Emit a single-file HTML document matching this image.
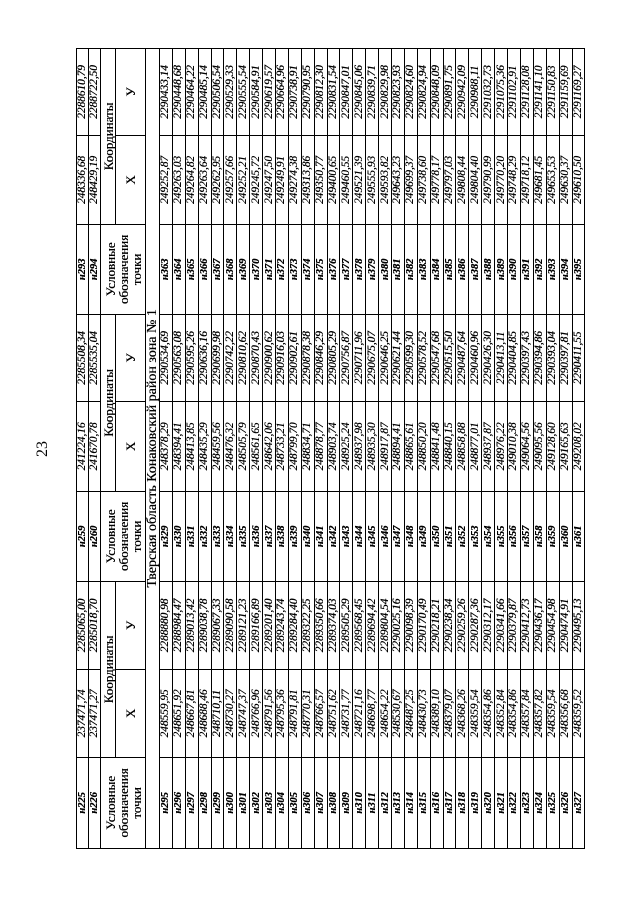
<!DOCTYPE html>
<html><head><meta charset="utf-8"><style>
html,body{margin:0;padding:0;background:#fff;}
body{width:640px;height:905px;position:relative;overflow:hidden;}
#r{position:absolute;left:-69px;top:194px;width:800px;height:510px;transform:rotate(-90deg);transform-origin:400px 255px;font-family:"Liberation Serif",serif;color:#000;}
table{border-collapse:collapse;table-layout:fixed;width:800px;}
td{border:1px solid #000;padding:0;text-align:center;white-space:nowrap;overflow:hidden;font-size:11px;line-height:11px;text-shadow:0.3px 0 0 #000;}
td.n{font-style:italic;font-weight:bold;font-size:10.5px;}
td.v{font-style:italic;font-size:11.3px;}
tr.d td{height:11.9px;}
tr.t td{height:11px;}
td.h{font-size:13px;line-height:13px;}
#p{position:absolute;left:0;top:-42px;width:800px;text-align:center;font-size:16px;}
</style></head><body>
<div id="r">
<div id="p">23</div>
<table>
<colgroup><col style="width:91px"><col style="width:88px"><col style="width:88px"><col style="width:90px"><col style="width:90px"><col style="width:87px"><col style="width:90px"><col style="width:89px"><col style="width:87px"></colgroup>
<tr class="t"><td class="n">н225</td><td class="v">237471,74</td><td class="v">2285065,00</td><td class="n">н259</td><td class="v">241224,16</td><td class="v">2285508,34</td><td class="n">н293</td><td class="v">248336,68</td><td class="v">2288610,79</td></tr>
<tr class="t"><td class="n">н226</td><td class="v">237471,27</td><td class="v">2285018,70</td><td class="n">н260</td><td class="v">241670,78</td><td class="v">2285535,04</td><td class="n">н294</td><td class="v">248429,19</td><td class="v">2288722,50</td></tr>
<tr><td class="h" rowspan="2" style="height:44px">Условные<br>обозначения<br>точки</td><td class="h" colspan="2" style="height:14px">Координаты</td><td class="h" rowspan="2">Условные<br>обозначения<br>точки</td><td class="h" colspan="2">Координаты</td><td class="h" rowspan="2">Условные<br>обозначения<br>точки</td><td class="h" colspan="2">Координаты</td></tr>
<tr><td class="h" style="height:29px">X</td><td class="h">У</td><td class="h">X</td><td class="h">У</td><td class="h">X</td><td class="h">У</td></tr>
<tr><td colspan="9" style="height:13px;font-size:14px;line-height:13px">Тверская область Конаковский район зона № 1</td></tr>
<tr class="d"><td class="n">н295</td><td class="v">248559,95</td><td class="v">2288880,98</td><td class="n">н329</td><td class="v">248378,29</td><td class="v">2290534,69</td><td class="n">н363</td><td class="v">249252,87</td><td class="v">2290433,14</td></tr>
<tr class="d"><td class="n">н296</td><td class="v">248651,92</td><td class="v">2288984,47</td><td class="n">н330</td><td class="v">248394,41</td><td class="v">2290563,08</td><td class="n">н364</td><td class="v">249263,03</td><td class="v">2290448,68</td></tr>
<tr class="d"><td class="n">н297</td><td class="v">248667,81</td><td class="v">2289013,42</td><td class="n">н331</td><td class="v">248413,85</td><td class="v">2290595,26</td><td class="n">н365</td><td class="v">249264,82</td><td class="v">2290464,22</td></tr>
<tr class="d"><td class="n">н298</td><td class="v">248688,46</td><td class="v">2289038,78</td><td class="n">н332</td><td class="v">248435,29</td><td class="v">2290636,16</td><td class="n">н366</td><td class="v">249263,64</td><td class="v">2290485,14</td></tr>
<tr class="d"><td class="n">н299</td><td class="v">248710,11</td><td class="v">2289067,33</td><td class="n">н333</td><td class="v">248459,56</td><td class="v">2290699,98</td><td class="n">н367</td><td class="v">249262,95</td><td class="v">2290506,54</td></tr>
<tr class="d"><td class="n">н300</td><td class="v">248730,27</td><td class="v">2289090,58</td><td class="n">н334</td><td class="v">248476,32</td><td class="v">2290742,22</td><td class="n">н368</td><td class="v">249257,66</td><td class="v">2290529,33</td></tr>
<tr class="d"><td class="n">н301</td><td class="v">248747,37</td><td class="v">2289121,23</td><td class="n">н335</td><td class="v">248505,79</td><td class="v">2290810,62</td><td class="n">н369</td><td class="v">249252,21</td><td class="v">2290555,54</td></tr>
<tr class="d"><td class="n">н302</td><td class="v">248766,96</td><td class="v">2289166,89</td><td class="n">н336</td><td class="v">248561,65</td><td class="v">2290870,43</td><td class="n">н370</td><td class="v">249245,72</td><td class="v">2290584,91</td></tr>
<tr class="d"><td class="n">н303</td><td class="v">248791,56</td><td class="v">2289201,40</td><td class="n">н337</td><td class="v">248642,06</td><td class="v">2290900,62</td><td class="n">н371</td><td class="v">249247,50</td><td class="v">2290619,57</td></tr>
<tr class="d"><td class="n">н304</td><td class="v">248795,36</td><td class="v">2289243,74</td><td class="n">н338</td><td class="v">248733,21</td><td class="v">2290916,03</td><td class="n">н372</td><td class="v">249249,91</td><td class="v">2290664,96</td></tr>
<tr class="d"><td class="n">н305</td><td class="v">248791,81</td><td class="v">2289284,40</td><td class="n">н339</td><td class="v">248799,70</td><td class="v">2290902,61</td><td class="n">н373</td><td class="v">249274,38</td><td class="v">2290738,91</td></tr>
<tr class="d"><td class="n">н306</td><td class="v">248770,31</td><td class="v">2289322,25</td><td class="n">н340</td><td class="v">248834,71</td><td class="v">2290878,38</td><td class="n">н374</td><td class="v">249313,86</td><td class="v">2290790,95</td></tr>
<tr class="d"><td class="n">н307</td><td class="v">248766,57</td><td class="v">2289350,66</td><td class="n">н341</td><td class="v">248878,77</td><td class="v">2290846,29</td><td class="n">н375</td><td class="v">249350,77</td><td class="v">2290812,30</td></tr>
<tr class="d"><td class="n">н308</td><td class="v">248751,62</td><td class="v">2289374,03</td><td class="n">н342</td><td class="v">248903,74</td><td class="v">2290805,29</td><td class="n">н376</td><td class="v">249400,65</td><td class="v">2290831,54</td></tr>
<tr class="d"><td class="n">н309</td><td class="v">248731,77</td><td class="v">2289505,29</td><td class="n">н343</td><td class="v">248925,24</td><td class="v">2290756,87</td><td class="n">н377</td><td class="v">249460,55</td><td class="v">2290847,01</td></tr>
<tr class="d"><td class="n">н310</td><td class="v">248721,16</td><td class="v">2289568,45</td><td class="n">н344</td><td class="v">248937,98</td><td class="v">2290711,96</td><td class="n">н378</td><td class="v">249521,39</td><td class="v">2290845,06</td></tr>
<tr class="d"><td class="n">н311</td><td class="v">248698,77</td><td class="v">2289694,42</td><td class="n">н345</td><td class="v">248935,30</td><td class="v">2290675,07</td><td class="n">н379</td><td class="v">249555,93</td><td class="v">2290839,71</td></tr>
<tr class="d"><td class="n">н312</td><td class="v">248654,22</td><td class="v">2289804,54</td><td class="n">н346</td><td class="v">248917,87</td><td class="v">2290646,25</td><td class="n">н380</td><td class="v">249593,82</td><td class="v">2290829,98</td></tr>
<tr class="d"><td class="n">н313</td><td class="v">248530,67</td><td class="v">2290025,16</td><td class="n">н347</td><td class="v">248894,41</td><td class="v">2290621,44</td><td class="n">н381</td><td class="v">249643,23</td><td class="v">2290823,93</td></tr>
<tr class="d"><td class="n">н314</td><td class="v">248487,25</td><td class="v">2290098,39</td><td class="n">н348</td><td class="v">248865,61</td><td class="v">2290599,30</td><td class="n">н382</td><td class="v">249699,37</td><td class="v">2290824,60</td></tr>
<tr class="d"><td class="n">н315</td><td class="v">248430,73</td><td class="v">2290170,49</td><td class="n">н349</td><td class="v">248850,20</td><td class="v">2290578,52</td><td class="n">н383</td><td class="v">249738,60</td><td class="v">2290824,94</td></tr>
<tr class="d"><td class="n">н316</td><td class="v">248389,10</td><td class="v">2290218,21</td><td class="n">н350</td><td class="v">248841,48</td><td class="v">2290547,68</td><td class="n">н384</td><td class="v">249778,17</td><td class="v">2290848,09</td></tr>
<tr class="d"><td class="n">н317</td><td class="v">248379,07</td><td class="v">2290238,34</td><td class="n">н351</td><td class="v">248840,15</td><td class="v">2290515,50</td><td class="n">н385</td><td class="v">249797,03</td><td class="v">2290891,75</td></tr>
<tr class="d"><td class="n">н318</td><td class="v">248368,26</td><td class="v">2290259,26</td><td class="n">н352</td><td class="v">248858,88</td><td class="v">2290487,64</td><td class="n">н386</td><td class="v">249808,44</td><td class="v">2290942,09</td></tr>
<tr class="d"><td class="n">н319</td><td class="v">248359,54</td><td class="v">2290287,36</td><td class="n">н353</td><td class="v">248877,01</td><td class="v">2290460,96</td><td class="n">н387</td><td class="v">249804,40</td><td class="v">2290988,11</td></tr>
<tr class="d"><td class="n">н320</td><td class="v">248354,86</td><td class="v">2290312,17</td><td class="n">н354</td><td class="v">248937,87</td><td class="v">2290426,30</td><td class="n">н388</td><td class="v">249790,99</td><td class="v">2291032,73</td></tr>
<tr class="d"><td class="n">н321</td><td class="v">248352,84</td><td class="v">2290341,66</td><td class="n">н355</td><td class="v">248976,22</td><td class="v">2290413,11</td><td class="n">н389</td><td class="v">249770,20</td><td class="v">2291075,36</td></tr>
<tr class="d"><td class="n">н322</td><td class="v">248354,86</td><td class="v">2290379,87</td><td class="n">н356</td><td class="v">249010,38</td><td class="v">2290404,85</td><td class="n">н390</td><td class="v">249748,29</td><td class="v">2291102,91</td></tr>
<tr class="d"><td class="n">н323</td><td class="v">248357,84</td><td class="v">2290412,73</td><td class="n">н357</td><td class="v">249064,56</td><td class="v">2290397,43</td><td class="n">н391</td><td class="v">249718,12</td><td class="v">2291128,08</td></tr>
<tr class="d"><td class="n">н324</td><td class="v">248357,82</td><td class="v">2290436,17</td><td class="n">н358</td><td class="v">249095,56</td><td class="v">2290394,86</td><td class="n">н392</td><td class="v">249681,45</td><td class="v">2291141,10</td></tr>
<tr class="d"><td class="n">н325</td><td class="v">248359,54</td><td class="v">2290454,98</td><td class="n">н359</td><td class="v">249128,60</td><td class="v">2290393,04</td><td class="n">н393</td><td class="v">249653,53</td><td class="v">2291150,83</td></tr>
<tr class="d"><td class="n">н326</td><td class="v">248356,68</td><td class="v">2290474,91</td><td class="n">н360</td><td class="v">249165,63</td><td class="v">2290397,81</td><td class="n">н394</td><td class="v">249630,37</td><td class="v">2291159,69</td></tr>
<tr class="d"><td class="n">н327</td><td class="v">248359,52</td><td class="v">2290495,13</td><td class="n">н361</td><td class="v">249208,02</td><td class="v">2290411,55</td><td class="n">н395</td><td class="v">249610,50</td><td class="v">2291169,27</td></tr>
</table>
</div>
</body></html>
